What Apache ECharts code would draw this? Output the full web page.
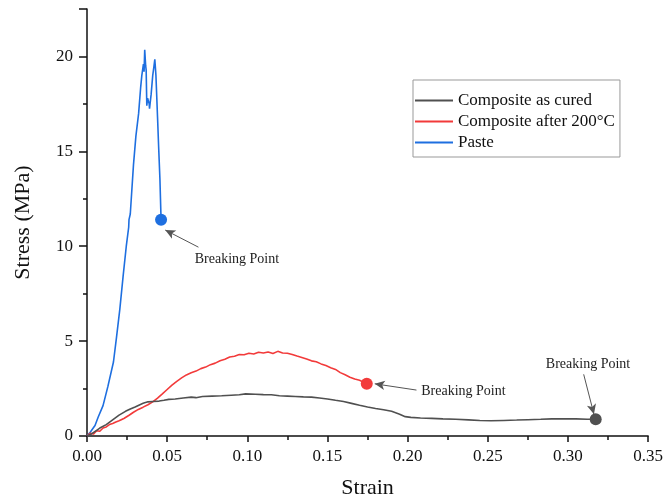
<!DOCTYPE html>
<html><head><meta charset="utf-8">
<script src="https://cdn.jsdelivr.net/npm/echarts@6/dist/echarts.min.js"></script>
<style>html,body{margin:0;padding:0;background:#fff}#c{width:666px;height:504px}</style>
</head><body><div id="c"></div>
<script>
const seriesNames = ['Composite as cured', 'Composite after 200°C', 'Paste'];
const colors = ['#505050', '#f23a3a', '#1e6fe0'];
const xTicks = [0, 0.05, 0.10, 0.15, 0.20, 0.25, 0.30, 0.35];
const yTicks = [0, 5, 10, 15, 20];

const asCured = [[0,0],[0.003,0.12],[0.006,0.3],[0.008,0.42],[0.012,0.6],[0.016,0.85],[0.020,1.1],[0.024,1.3],[0.027,1.42],[0.030,1.53],[0.033,1.65],[0.035,1.72],[0.038,1.8],[0.041,1.82],[0.045,1.84],[0.048,1.88],[0.051,1.93],[0.055,1.95],[0.060,2.0],[0.065,2.05],[0.068,2.02],[0.072,2.08],[0.078,2.1],[0.084,2.12],[0.090,2.15],[0.095,2.17],[0.099,2.22],[0.105,2.2],[0.110,2.18],[0.115,2.17],[0.120,2.12],[0.125,2.1],[0.130,2.08],[0.135,2.06],[0.140,2.05],[0.145,2.0],[0.150,1.95],[0.155,1.88],[0.160,1.82],[0.165,1.72],[0.170,1.62],[0.175,1.53],[0.180,1.45],[0.185,1.38],[0.190,1.3],[0.195,1.15],[0.1985,1.02],[0.202,0.98],[0.208,0.95],[0.215,0.93],[0.222,0.9],[0.230,0.88],[0.238,0.85],[0.245,0.82],[0.252,0.8],[0.260,0.82],[0.268,0.84],[0.275,0.86],[0.283,0.88],[0.290,0.9],[0.298,0.9],[0.305,0.9],[0.312,0.88],[0.3173,0.88]];

const afterHeat = [[0,0],[0.002,0.15],[0.004,0.1],[0.006,0.28],[0.008,0.25],[0.010,0.42],[0.012,0.48],[0.014,0.6],[0.016,0.66],[0.018,0.74],[0.020,0.8],[0.023,0.92],[0.026,1.08],[0.029,1.25],[0.032,1.4],[0.035,1.52],[0.038,1.65],[0.041,1.8],[0.044,2.0],[0.047,2.22],[0.050,2.45],[0.053,2.68],[0.056,2.88],[0.059,3.06],[0.062,3.22],[0.065,3.33],[0.068,3.42],[0.071,3.55],[0.074,3.63],[0.077,3.76],[0.080,3.84],[0.083,3.96],[0.086,4.04],[0.089,4.16],[0.092,4.2],[0.095,4.29],[0.098,4.28],[0.101,4.36],[0.104,4.32],[0.107,4.41],[0.110,4.37],[0.113,4.43],[0.116,4.35],[0.119,4.46],[0.122,4.37],[0.125,4.36],[0.128,4.29],[0.131,4.21],[0.134,4.14],[0.137,4.06],[0.140,3.96],[0.143,3.91],[0.146,3.8],[0.149,3.71],[0.152,3.6],[0.155,3.51],[0.158,3.34],[0.161,3.23],[0.164,3.1],[0.167,3.0],[0.170,2.94],[0.1745,2.75]];

const paste = [[0,0],[0.002,0.2],[0.005,0.55],[0.007,1.0],[0.010,1.6],[0.013,2.6],[0.0165,3.9],[0.0184,5.2],[0.0205,6.7],[0.0225,8.4],[0.0245,10.0],[0.026,11.0],[0.0262,11.4],[0.027,11.7],[0.029,14.3],[0.0305,15.8],[0.0322,17.0],[0.0335,18.4],[0.0342,19.0],[0.0352,19.6],[0.0356,19.2],[0.036,20.35],[0.0366,19.5],[0.0369,19.3],[0.0373,17.4],[0.0378,17.8],[0.0383,17.9],[0.0388,17.5],[0.039,17.25],[0.040,18.0],[0.041,19.0],[0.0418,19.5],[0.0423,19.85],[0.043,19.0],[0.044,16.8],[0.0447,15.2],[0.0455,13.5],[0.0462,11.4]];

// annotation positions in data space: [textX, textY, arrowFromX, arrowFromY, arrowToX, arrowToY]
const notes = [
  [0.3125, 3.8, 0.3098, 3.25, 0.3162, 1.15],
  [0.2348, 2.35, 0.2055, 2.42, 0.1795, 2.75],
  [0.0935, 9.3, 0.0695, 9.95, 0.0488, 10.85]
];
const noteText = 'Breaking Point';
const FONT = 'Liberation Serif';

const datasets = [asCured, afterHeat, paste];
const series = datasets.map((d, i) => ({
  name: seriesNames[i], type: 'line', data: d, showSymbol: false, symbol: 'none',
  lineStyle: { color: colors[i], width: 1.6 }, itemStyle: { color: colors[i] },
  z: 3 - i + 2,
  markPoint: {
    silent: true, animation: false,
    data: [
      { coord: d[d.length - 1], symbol: 'circle', symbolSize: 12, itemStyle: { color: colors[i] }, label: { show: false } },
      { coord: [notes[i][0], notes[i][1]], symbol: 'circle', symbolSize: 0,
        label: { show: true, position: 'inside', formatter: noteText, color: '#222', fontSize: 14, fontFamily: FONT } }
    ]
  },
  markLine: {
    silent: true, animation: false, symbolSize: [7, 10],
    lineStyle: { color: '#555', width: 1, type: 'solid' }, label: { show: false },
    data: [[{ coord: [notes[i][2], notes[i][3]], symbol: 'none' }, { coord: [notes[i][4], notes[i][5]], symbol: 'arrow' }]]
  }
}));

const chart = echarts.init(document.getElementById('c'));
chart.setOption({
  animation: false,
  backgroundColor: '#fff',
  grid: { left: 87, right: 13, top: 9, bottom: 63 },
  legend: {
    orient: 'vertical', left: 413, top: 80, icon: 'rect', itemWidth: 38, itemHeight: 2, itemGap: 4,
    padding: [12, 5, 6, 2], borderColor: '#999', borderWidth: 1,
    textStyle: { fontFamily: FONT, fontSize: 17, color: '#111' },
    data: seriesNames
  },
  xAxis: {
    type: 'value', min: 0, max: 0.35, interval: 0.05,
    name: 'Strain', nameLocation: 'middle', nameGap: 41,
    nameTextStyle: { fontFamily: FONT, fontSize: 22, color: '#111' },
    axisLine: { show: true, lineStyle: { color: '#111', width: 1.5 } },
    axisTick: { show: true, length: 6, lineStyle: { color: '#111', width: 1.5 } },
    minorTick: { show: true, splitNumber: 2, length: 4, lineStyle: { color: '#111', width: 1.5 } },
    splitLine: { show: false },
    axisLabel: { margin: 12, fontFamily: FONT, fontSize: 17, color: '#111',
      formatter: v => xTicks.some(t => Math.abs(t - v) < 1e-9) ? v.toFixed(2) : '' }
  },
  yAxis: {
    type: 'value', min: 0, max: 22.5, interval: 5,
    name: 'Stress (MPa)', nameLocation: 'middle', nameGap: 53,
    nameTextStyle: { fontFamily: FONT, fontSize: 22, color: '#111' },
    axisLine: { show: true, lineStyle: { color: '#111', width: 1.5 } },
    axisTick: { show: true, length: 8, lineStyle: { color: '#111', width: 1.5 } },
    minorTick: { show: true, splitNumber: 2, length: 4, lineStyle: { color: '#111', width: 1.5 } },
    splitLine: { show: false },
    axisLabel: { margin: 14, fontFamily: FONT, fontSize: 17, color: '#111',
      formatter: v => yTicks.includes(v) ? String(v) : '' }
  },
  series: series
});
</script></body></html>
